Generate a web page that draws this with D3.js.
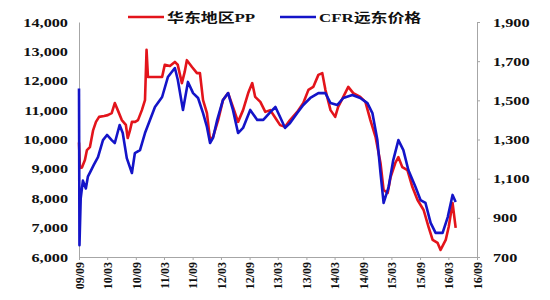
<!DOCTYPE html>
<html>
<head>
<meta charset="utf-8">
<script src="https://cdn.jsdelivr.net/npm/d3@7"></script>
<style>
  html, body { margin: 0; padding: 0; background: #fff; }
  svg { display: block; }
  text { font-family: "Liberation Serif", "Times New Roman", "Noto Sans CJK SC", serif; font-weight: bold; fill: #111; }
</style>
</head>
<body>
<svg id="chart"></svg>
<script>
// ── Data ──────────────────────────────────────────────────────────

const seriesNames = ['华东地区PP', 'CFR远东价格'];

const tickLabels = ['09/09', '10/03', '10/09', '11/03', '11/09', '12/03', '12/09', '13/03',
  '13/09', '14/03', '14/09', '15/03', '15/09', '16/03', '16/09'];

const leftTicks  = [6000, 7000, 8000, 9000, 10000, 11000, 12000, 13000, 14000];
const rightTicks = [700, 900, 1100, 1300, 1500, 1700, 1900];

// 华东地区PP (yuan/t, left axis)
const ppDates = ['2009-09-01', '2009-09-07', '2009-09-20', '2009-10-09', '2009-10-22', '2009-11-10',
  '2009-11-30', '2009-12-19', '2010-01-08', '2010-02-09', '2010-03-05', '2010-03-30', '2010-04-19',
  '2010-05-08', '2010-06-03', '2010-06-29', '2010-07-11', '2010-07-25', '2010-08-07', '2010-08-28',
  '2010-09-15', '2010-10-10', '2010-10-30', '2010-11-09', '2010-11-18', '2011-01-02', '2011-02-17',
  '2011-03-06', '2011-04-08', '2011-05-10', '2011-05-28', '2011-06-24', '2011-07-12', '2011-07-26',
  '2011-08-28', '2011-09-29', '2011-10-18', '2011-11-07', '2011-12-02', '2011-12-22', '2012-01-10',
  '2012-02-12', '2012-03-14', '2012-04-16', '2012-05-17', '2012-06-19', '2012-07-21', '2012-08-23',
  '2012-09-18', '2012-10-07', '2012-11-09', '2012-12-11', '2013-01-12', '2013-02-14', '2013-03-16',
  '2013-04-17', '2013-05-19', '2013-07-04', '2013-08-12', '2013-09-14', '2013-10-15', '2013-11-17',
  '2013-12-12', '2014-01-01', '2014-02-03', '2014-03-05', '2014-03-24', '2014-04-26', '2014-05-28',
  '2014-06-29', '2014-08-13', '2014-09-15', '2014-10-17', '2014-11-19', '2014-12-21', '2015-01-10',
  '2015-02-05', '2015-02-24', '2015-03-26', '2015-04-15', '2015-05-10', '2015-06-12', '2015-07-14',
  '2015-08-16', '2015-09-24', '2015-10-26', '2015-11-21', '2015-12-23', '2016-01-11', '2016-02-13',
  '2016-03-03', '2016-03-28', '2016-04-17'];
const ppValues = [9900, 9030, 9050, 9300, 9640, 9740,
  10300, 10600, 10770, 10800, 10830, 10900, 11240,
  11000, 10660, 10500, 10050, 10300, 10600, 10600,
  10660, 11000, 11340, 13050, 12130, 12130, 12130,
  12540, 12500, 12640, 12550, 11920, 12300, 12700,
  12470, 12260, 12260, 11340, 10900, 9980, 10090,
  10660, 11340, 11580, 11110, 10600, 11000, 11580,
  11920, 11450, 11280, 10940, 11000, 10730, 10490,
  10430, 10660, 10940, 11240, 11690, 11790, 12200,
  12260, 11690, 11000, 10770, 11110, 11450, 11790,
  11580, 11450, 11280, 10660, 10090, 9200, 8280,
  8180, 8720, 9200, 9400, 9060, 8960, 8380,
  7940, 7600, 7020, 6580, 6480, 6240, 6580,
  7020, 7840, 6990];

// CFR远东价格 (USD/t, right axis)
const cfrDates = ['2009-09-01', '2009-09-04', '2009-09-12', '2009-09-26', '2009-10-15', '2009-10-28',
  '2009-11-16', '2009-12-05', '2010-01-01', '2010-02-02', '2010-02-28', '2010-03-30', '2010-04-19',
  '2010-05-20', '2010-06-09', '2010-07-05', '2010-08-07', '2010-08-26', '2010-09-28', '2010-10-30',
  '2010-12-01', '2011-01-02', '2011-02-17', '2011-03-26', '2011-05-10', '2011-05-29', '2011-07-01',
  '2011-08-02', '2011-09-04', '2011-10-06', '2011-11-07', '2011-12-02', '2011-12-22', '2012-01-10',
  '2012-02-06', '2012-03-14', '2012-04-16', '2012-05-17', '2012-06-19', '2012-07-21', '2012-09-05',
  '2012-10-20', '2012-11-28', '2013-01-12', '2013-02-14', '2013-03-16', '2013-04-17', '2013-05-19',
  '2013-07-04', '2013-08-12', '2013-09-26', '2013-11-17', '2014-01-01', '2014-02-03', '2014-03-18',
  '2014-04-26', '2014-06-23', '2014-08-13', '2014-09-28', '2014-10-30', '2014-12-01', '2014-12-21',
  '2015-01-10', '2015-02-11', '2015-03-13', '2015-04-15', '2015-05-17', '2015-06-18', '2015-08-03',
  '2015-09-04', '2015-10-06', '2015-11-08', '2015-12-10', '2016-01-24', '2016-02-26', '2016-03-28',
  '2016-04-17'];
const cfrValues = [1560, 760, 1000, 1090, 1050, 1110,
  1140, 1170, 1210, 1297, 1323, 1297, 1282,
  1374, 1333, 1205, 1129, 1231, 1246, 1333,
  1400, 1466, 1517, 1619, 1665, 1604, 1451,
  1594, 1537, 1512, 1435, 1364, 1282, 1308,
  1400, 1502, 1537, 1451, 1333, 1359, 1451,
  1400, 1400, 1440, 1466, 1415, 1359, 1384,
  1435, 1476, 1512, 1537, 1537, 1486, 1476,
  1512, 1527, 1512, 1486, 1435, 1297, 1129,
  976, 1057, 1195, 1297, 1246, 1144, 1057,
  991, 976, 874, 823, 823, 904, 1017,
  981];

// ── Scaffolding ───────────────────────────────────────────────────

const width = 550, height = 300;
const margin = { top: 22, right: 73, bottom: 43, left: 79 };
const parse = d3.timeParse('%Y-%m-%d');
const parseTick = d3.timeParse('%y/%m');

const svg = d3.select('#chart').attr('width', width).attr('height', height);

const x = d3.scaleTime()
  .domain([parseTick(tickLabels[0]), parseTick(tickLabels[tickLabels.length - 1])])
  .range([margin.left, width - margin.right - 0]);
const yL = d3.scaleLinear().domain([6000, 14000]).range([height - margin.bottom, margin.top]);
const yR = d3.scaleLinear().domain([700, 1900]).range([height - margin.bottom, margin.top]);

const fmt = d3.format(',');
const axisColor = '#a6a6a6';

// ── Axes ──────────────────────────────────────────────────────────

const gLeft = svg.append('g')
  .attr('transform', `translate(${margin.left},0)`)
  .call(d3.axisLeft(yL).tickValues(leftTicks).tickFormat(fmt).tickSize(0));
gLeft.select('.domain').attr('stroke', axisColor);
gLeft.selectAll('text')
  .attr('x', 0)
  .attr('font-size', 12.5)
  .attr('transform', 'translate(-11,0) scale(1.3,1)');

const gRight = svg.append('g')
  .attr('transform', `translate(${width - margin.right},0)`)
  .call(d3.axisRight(yR).tickValues(rightTicks).tickFormat(fmt).tickSize(3).tickSizeOuter(0));
gRight.select('.domain').attr('stroke', axisColor);
gRight.selectAll('line').attr('stroke', axisColor);
gRight.selectAll('text')
  .attr('x', 0)
  .attr('font-size', 12.5)
  .attr('transform', 'translate(16,0) scale(1.3,1)');

const gBottom = svg.append('g')
  .attr('transform', `translate(0,${height - margin.bottom})`)
  .call(d3.axisBottom(x).tickValues(tickLabels.map(parseTick))
    .tickFormat((d, i) => tickLabels[i]).tickSize(3).tickSizeOuter(0));
gBottom.select('.domain').attr('stroke', axisColor);
gBottom.selectAll('line').attr('stroke', axisColor);
gBottom.selectAll('text')
  .attr('font-size', 12)
  .attr('text-anchor', 'end')
  .attr('x', 0).attr('y', 0).attr('dy', '0.35em')
  .attr('transform', 'translate(0,5) rotate(-90)');

svg.selectAll('.domain').attr('stroke-width', 1);
svg.selectAll('.tick text').attr('fill', '#111');

// ── Lines ─────────────────────────────────────────────────────────

const ppData  = ppDates.map((d, i) => ({ date: parse(d), value: ppValues[i] }));
const cfrData = cfrDates.map((d, i) => ({ date: parse(d), value: cfrValues[i] }));

const colors = ['#e3141b', '#1414c8'];

svg.append('path')
  .datum(ppData)
  .attr('fill', 'none')
  .attr('stroke', colors[0])
  .attr('stroke-width', 2.6)
  .attr('stroke-linejoin', 'round')
  .attr('d', d3.line().x(d => x(d.date)).y(d => yL(d.value)));

svg.append('path')
  .datum(cfrData)
  .attr('fill', 'none')
  .attr('stroke', colors[1])
  .attr('stroke-width', 2.6)
  .attr('stroke-linejoin', 'round')
  .attr('d', d3.line().x(d => x(d.date)).y(d => yR(d.value)));

// ── Legend ────────────────────────────────────────────────────────

const legendX = [128, 280];
seriesNames.forEach((name, i) => {
  const g = svg.append('g').attr('transform', `translate(${legendX[i]},17)`);
  g.append('line').attr('x1', 0).attr('x2', 36).attr('y1', 0).attr('y2', 0)
    .attr('stroke', colors[i]).attr('stroke-width', 2.6);
  g.append('text')
    .attr('font-size', 13)
    .attr('dy', '0.36em')
    .attr('transform', 'translate(39,0) scale(1.3,1)')
    .text(name);
});
</script>
</body>
</html>
